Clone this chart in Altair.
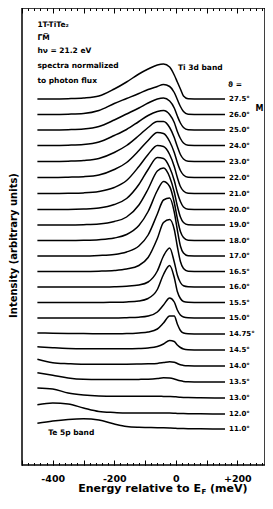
import altair as alt
import pandas as pd

# Energy grid (meV) at which each spectrum was read
energies = [-450, -400, -350, -300, -250, -200, -160, -120, -90, -60, -40, -20, -5, 5, 15, 25, 40, 80, 160]

angles = ["27.5", "26.0", "25.0", "24.0", "23.0", "22.0", "21.0", "20.0", "19.0", "18.0", "17.0",
          "16.5", "16.0", "15.5", "15.0", "14.75", "14.5", "14.0", "13.5", "13.0", "12.0", "11.0"]

# vertical offset of each spectrum (arbitrary units)
offsets = [366, 350.5, 335, 319.5, 303.5, 287.5, 271.5, 255.5, 240, 224.5, 209,
           193.5, 178, 162.5, 147, 131, 115, 99, 83, 67, 51, 36]

# intensity above each spectrum's offset
s275 = [0, 0, 0.3, 1, 3, 10, 17, 25, 30, 34, 35, 32, 24, 17, 10, 3, 0.3, 0, 0]
s260 = [0, 0, 0.3, 1, 4, 11, 16, 21, 25, 28, 30, 28, 22, 15, 8, 3, 0.3, 0, 0]
s250 = [0, 0, 0.3, 1, 3.5, 10, 16, 22, 27, 31, 32, 29, 22, 14, 7, 2.5, 0.3, 0, 0]
s240 = [0, 0, 0.3, 1, 3.5, 10, 16, 24, 30, 34, 35, 31, 23, 14, 7, 2.5, 0.3, 0, 0]
s230 = [0, 0, 0.3, 1, 3, 9, 16, 26, 34, 40, 40, 34, 24, 15, 7, 2.5, 0.3, 0, 0]
s220 = [0, 0, 0.3, 0.8, 2.5, 8, 15, 27, 37, 45, 44, 36, 25, 15, 7, 2.5, 0.3, 0, 0]
s210 = [0, 0, 0.2, 0.6, 2, 6, 13, 27, 39, 48, 47, 39, 27, 16, 7, 2.5, 0.3, 0, 0]
s200 = [0, 0, 0, 0.4, 1.5, 5, 11, 25, 40, 52, 51, 42, 29, 17, 8, 2.5, 0.3, 0, 0]
s190 = [0, 0, 0, 0.3, 1, 3.5, 8, 20, 36, 54, 57, 48, 33, 19, 8, 2.5, 0.3, 0, 0]
s180 = [0, 0, 0, 0.2, 0.8, 2.5, 6, 15, 29, 50, 59, 54, 38, 22, 9, 3, 0.3, 0, 0]
s170 = [0, 0, 0, 0, 0.5, 1.5, 4, 10, 21, 42, 56, 58, 44, 26, 10, 3, 0.3, 0, 0]
s165 = [0, 0, 0, 0, 0.3, 1, 2.5, 6, 14, 33, 49, 52, 42, 25, 10, 3, 0.3, 0, 0]
s160 = [0, 0, 0, 0, 0, 0.3, 0.8, 2, 5, 16, 31, 39, 25, 12, 4.5, 1.2, 0.3, 0, 0]
s155 = [0, 0, 0, 0, 0, 0.3, 0.6, 1.5, 4, 13, 28, 37, 25, 11, 4, 1, 0.3, 0, 0]
s150 = [0, 0, 0, 0, 0, 0, 0.3, 0.8, 2, 6, 13, 20, 16, 8, 3, 1, 0.2, 0, 0]
s1475 = [1, 0.8, 0.6, 0.4, 0.3, 0.3, 0.4, 1, 2, 5, 11, 18, 18, 10, 3.5, 1, 0.2, 0, 0]
s145 = [3.3, 2.3, 1.5, 1.2, 1.2, 1.2, 1.2, 1.5, 2, 3.5, 6, 9.5, 8.5, 5, 2.5, 1, 0.3, 0, 0]
s140 = [6.7, 3.3, 2.3, 1.7, 1.7, 1.7, 1.8, 2, 2.2, 2.6, 3.4, 4.3, 3.8, 2.5, 1.2, 0.6, 0.2, 0, 0]
s135 = [9.3, 6.7, 4, 2.7, 2.5, 2.5, 2.5, 2.6, 2.8, 3.5, 4.3, 4, 3, 2, 1.2, 0.6, 0.2, 0, 0]
s130 = [10, 9, 5, 3, 2, 1.7, 1.7, 1.7, 1.7, 1.7, 1.6, 1.5, 1.3, 1, 0.8, 0.6, 0.4, 0.2, 0]
s120 = [9.3, 11, 10, 6, 2.5, 1.5, 1, 1, 1, 1, 1, 1, 0.8, 0.6, 0.5, 0.4, 0.3, 0.2, 0]
s110 = [5.7, 8, 9.6, 10.3, 9, 5, 2.5, 1.7, 1.5, 1.3, 1.2, 1, 0.8, 0.6, 0.5, 0.4, 0.3, 0.2, 0]

spectra = [s275, s260, s250, s240, s230, s220, s210, s200, s190, s180, s170,
           s165, s160, s155, s150, s1475, s145, s140, s135, s130, s120, s110]

major_ticks = [-500, -400, -300, -200, -100, 0, 100, 200]
minor_ticks = list(range(-500, 291, 20))
tick_labels = [-400, -200, 0, 200]

rows = []
for a, off, s in zip(angles, offsets, spectra):
    for e, h in zip(energies, s):
        rows.append({"angle": a, "E": e, "I": off + h})
df = pd.DataFrame(rows)

lab_df = pd.DataFrame({"E": [160] * len(angles), "I": offsets, "text": [a + "°" for a in angles]})

FONT = "DejaVu Sans"
W, H = 243, 457
x_scale = alt.Scale(domain=[-500, 290], nice=False, zero=False)
y_scale = alt.Scale(domain=[0, H], nice=False, zero=False)

curves = alt.Chart(df).mark_line(color="black", strokeWidth=1.5, interpolate="monotone").encode(
    x=alt.X("E:Q", scale=x_scale, axis=alt.Axis(
        values=tick_labels, labelExpr="datum.value > 0 ? '+' + datum.value : '' + datum.value",
        ticks=False, tickSize=0, domain=False, grid=False, title=None,
        labelFont=FONT, labelFontWeight="bold", labelFontSize=9.5, labelColor="black", labelPadding=8)),
    y=alt.Y("I:Q", scale=y_scale, axis=alt.Axis(
        title="Intensity (arbitrary units)", labels=False, ticks=False, domain=False, grid=False,
        titleFont=FONT, titleFontWeight="bold", titleFontSize=10, titleColor="black",
        titleAngle=-90, titleX=-9, titleY=237, titleAlign="center", titleBaseline="middle")),
    detail="angle:N",
)


def tick_layer(values, size, orient):
    return alt.Chart(df).mark_point(opacity=0).encode(
        x=alt.X("E:Q", scale=x_scale, axis=alt.Axis(
            values=values, orient=orient, offset=-H, tickSize=size, tickColor="black", tickWidth=1,
            labels=False, domain=False, grid=False, title=None)),
        y=alt.Y("I:Q", scale=y_scale, axis=None),
    )


ticks = [
    tick_layer(minor_ticks, 2.5, "top"),
    tick_layer(major_ticks, 5, "top"),
    tick_layer(minor_ticks, 2.5, "bottom"),
    tick_layer(major_ticks, 5, "bottom"),
]

angle_labels = alt.Chart(lab_df).mark_text(
    align="left", baseline="middle", dx=4, font=FONT, fontWeight="bold", fontSize=7, color="black"
).encode(
    x=alt.X("E:Q", scale=x_scale, axis=None),
    y=alt.Y("I:Q", scale=y_scale, axis=None),
    text="text:N",
)

ann_df = pd.DataFrame({
    "E": [-450, -450, -450, -450, -450, 7, 170, -415],
    "I": [440, 427, 414, 399, 384, 397, 380, 32],
    "text": ["1T-TiTe₂", "Γ\u0305M\u0305", "hν = 21.2 eV", "spectra normalized", "to photon flux",
             "Ti 3d band", "ϑ =", "Te 5p band"],
})
annotations = alt.Chart(ann_df).mark_text(
    align="left", baseline="middle", font=FONT, fontWeight="bold", fontSize=7.5, color="black"
).encode(
    x=alt.X("E:Q", scale=x_scale, axis=None),
    y=alt.Y("I:Q", scale=y_scale, axis=None),
    text="text:N",
)

m_df = pd.DataFrame({"E": [272], "I": [356], "text": ["M"]})
m_label = alt.Chart(m_df).mark_text(
    align="center", baseline="middle", font=FONT, fontWeight="bold", fontSize=8, color="black"
).encode(
    x=alt.X("E:Q", scale=x_scale, axis=None),
    y=alt.Y("I:Q", scale=y_scale, axis=None),
    text="text:N",
)

# x-axis title with subscript F
t1 = alt.Chart(pd.DataFrame({"text": ["Energy relative to E"]})).mark_text(
    align="right", baseline="middle", font=FONT, fontWeight="bold", fontSize=11, color="black").encode(
    x=alt.value(179), y=alt.value(481), text="text:N")
t2 = alt.Chart(pd.DataFrame({"text": ["F"]})).mark_text(
    align="left", baseline="middle", font=FONT, fontWeight="bold", fontSize=7, color="black").encode(
    x=alt.value(179.5), y=alt.value(484), text="text:N")
t3 = alt.Chart(pd.DataFrame({"text": ["(meV)"]})).mark_text(
    align="left", baseline="middle", font=FONT, fontWeight="bold", fontSize=11, color="black").encode(
    x=alt.value(188), y=alt.value(481), text="text:N")

chart = alt.layer(curves, *ticks, angle_labels, annotations, m_label, t1, t2, t3).resolve_axis(
    x="independent", y="independent"
).properties(
    width=W, height=H,
    autosize=alt.AutoSizeParams(type="none"),
    padding={"left": 14, "top": 0, "right": 0, "bottom": 30},
).configure_view(stroke="black", strokeWidth=1.5)

chart.save("out.html", embed_options={"renderer": "svg", "actions": False})
